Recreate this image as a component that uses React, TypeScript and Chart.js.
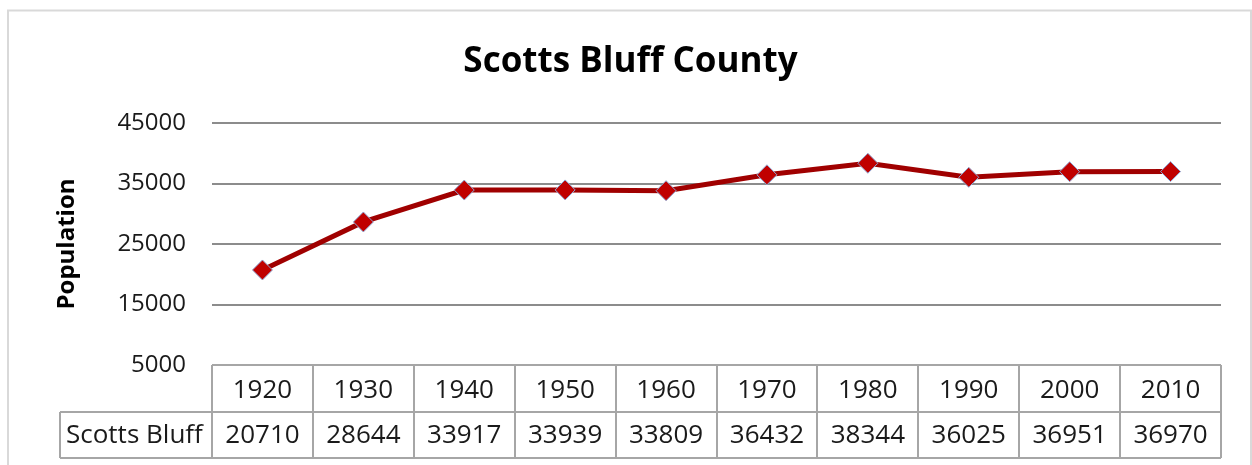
import React, { useEffect, useRef } from "react";
import { Chart, registerables } from "chart.js";

Chart.register(...registerables);

const chartTitle = "Scotts Bluff County";
const yAxisTitle = "Population";
const seriesName = "Scotts Bluff";
const years = ["1920", "1930", "1940", "1950", "1960", "1970", "1980", "1990", "2000", "2010"];
const population = [20710, 28644, 33917, 33939, 33809, 36432, 38344, 36025, 36951, 36970];
const yMin = 5000;
const yMax = 45000;
const yStep = 10000;

const FONT = "'Open Sans', 'DejaVu Sans', sans-serif";
const TABLE_FONT_SIZE = 26;

const tablePlugin = {
  id: "dataTable",
  beforeDraw(chart: any) {
    const ctx = chart.ctx;
    ctx.save();
    ctx.strokeStyle = "#d9d9d9";
    ctx.lineWidth = 2;
    ctx.strokeRect(8, 10.5, 1243, 480);
    ctx.restore();
  },
  afterDraw(chart: any) {
    const ctx = chart.ctx;
    const xs = chart.scales.x;
    const area = chart.chartArea;
    const n = years.length;
    const colW = (xs.right - xs.left) / n;
    const top = area.bottom;
    const mid = top + 47;
    const bot = top + 93;
    const headerLeft = 60;
    ctx.save();
    ctx.strokeStyle = "#a6a6a6";
    ctx.lineWidth = 2;
    ctx.beginPath();
    ctx.moveTo(xs.left, top);
    ctx.lineTo(xs.right, top);
    ctx.moveTo(headerLeft, mid);
    ctx.lineTo(xs.right, mid);
    ctx.moveTo(headerLeft, bot);
    ctx.lineTo(xs.right, bot);
    ctx.moveTo(headerLeft, mid);
    ctx.lineTo(headerLeft, bot);
    for (let i = 0; i <= n; i++) {
      const x = Math.round(xs.left + i * colW);
      ctx.moveTo(x, top);
      ctx.lineTo(x, bot);
    }
    ctx.stroke();
    ctx.fillStyle = "#1a1a1a";
    ctx.font = `${TABLE_FONT_SIZE}px ${FONT}`;
    ctx.textAlign = "center";
    ctx.textBaseline = "alphabetic";
    const half = 0.357 * TABLE_FONT_SIZE;
    const y1 = (top + mid) / 2 + half + 0.5;
    const y2 = (mid + bot) / 2 - 1 + half;
    for (let i = 0; i < n; i++) {
      const cx = xs.getPixelForValue(i);
      ctx.fillText(years[i], cx, y1);
      ctx.fillText(String(population[i]), cx, y2);
    }
    ctx.textAlign = "left";
    ctx.fillText(seriesName, headerLeft + 6, y2);
    ctx.restore();
  },
};

export default function App() {
  const ref = useRef<HTMLCanvasElement>(null);
  useEffect(() => {
    if (!ref.current) return;
    const chart = new Chart(ref.current, {
      type: "line",
      data: {
        labels: years,
        datasets: [
          {
            label: seriesName,
            data: population,
            borderColor: "#a00000",
            borderWidth: 5,
            pointStyle: "rectRot",
            pointRadius: 10,
            pointBackgroundColor: "#c00000",
            pointBorderColor: "#8fa9d6",
            pointBorderWidth: 1,
            tension: 0,
          },
        ],
      },
      options: {
        responsive: false,
        animation: false,
        layout: { padding: { left: 40, right: 31, top: 0, bottom: 0 } },
        plugins: {
          legend: { display: false },
          tooltip: { enabled: false },
          title: {
            display: true,
            text: chartTitle,
            color: "#000",
            font: { family: FONT, size: 35, weight: "bold" },
            padding: { top: 41, bottom: 40 },
          },
        },
        scales: {
          x: {
            offset: true,
            grid: { display: false },
            border: { display: false },
            ticks: { display: false },
            afterFit: (s: any) => {
              s.height = 100;
            },
          },
          y: {
            min: yMin,
            max: yMax,
            border: { display: false },
            grid: { color: "#8c8c8c", lineWidth: 2, drawTicks: false },
            ticks: {
              stepSize: yStep,
              padding: 26,
              color: "#1a1a1a",
              font: { family: FONT, size: 24 },
              callback: (v: any) => String(v),
            },
            title: {
              display: true,
              text: yAxisTitle,
              color: "#000",
              font: { family: FONT, size: 24, weight: "bold" },
              padding: { top: 13, bottom: 0 },
            },
            afterFit: (s: any) => {
              s.width = 172;
            },
          },
        },
      },
      plugins: [tablePlugin],
    });
    return () => chart.destroy();
  }, []);
  return (
    <div style={{ position: "absolute", left: 0, top: 0, width: 1252, height: 465 }}>
      <canvas ref={ref} width={1252} height={465} style={{ display: "block" }} />
    </div>
  );
}
